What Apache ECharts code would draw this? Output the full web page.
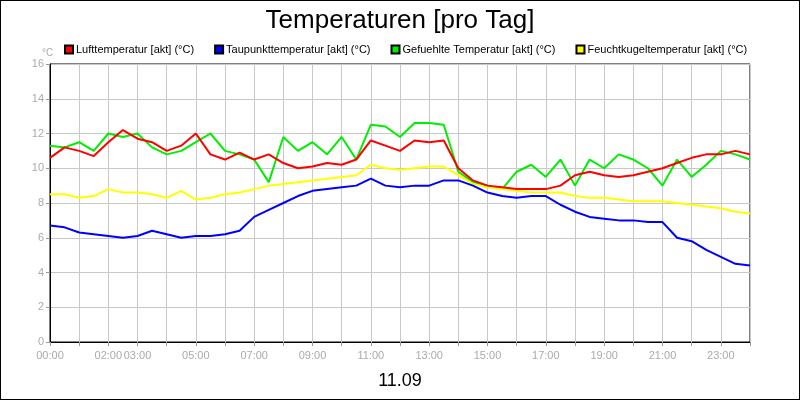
<!DOCTYPE html>
<html>
<head>
<meta charset="utf-8">
<script src="https://cdn.jsdelivr.net/npm/echarts@6/dist/echarts.min.js"></script>
<style>
html,body{margin:0;padding:0;background:#fff}
#chart{width:798px;height:398px;border:1px solid #000}
</style>
</head>
<body>
<div id="chart"></div>
<script>
// Stunden (halbstündlich)
var hours = [];
for (var i = 0; i <= 48; i++) hours.push(i / 2);
var shownLabels = [0, 2, 3, 5, 7, 9, 11, 13, 15, 17, 19, 21, 23];

var luft = [10.6,11.2,11.0,10.7,11.5,12.2,11.7,11.5,11.0,11.3,12.0,10.8,10.5,10.9,10.5,10.8,10.3,10.0,10.1,10.3,10.2,10.5,11.6,11.3,11.0,11.6,11.5,11.6,10.0,9.3,9.0,8.9,8.8,8.8,8.8,9.0,9.6,9.8,9.6,9.5,9.6,9.8,10.0,10.3,10.6,10.8,10.8,11.0,10.8];
var taupunkt = [6.7,6.6,6.3,6.2,6.1,6.0,6.1,6.4,6.2,6.0,6.1,6.1,6.2,6.4,7.2,7.6,8.0,8.4,8.7,8.8,8.9,9.0,9.4,9.0,8.9,9.0,9.0,9.3,9.3,9.0,8.6,8.4,8.3,8.4,8.4,7.9,7.5,7.2,7.1,7.0,7.0,6.9,6.9,6.0,5.8,5.3,4.9,4.5,4.4];
var gefuehlt = [11.3,11.2,11.5,11.0,12.0,11.8,12.0,11.2,10.8,11.0,11.5,12.0,11.0,10.8,10.5,9.2,11.8,11.0,11.5,10.8,11.8,10.5,12.5,12.4,11.8,12.6,12.6,12.5,9.8,9.2,9.0,8.8,9.8,10.2,9.5,10.5,9.0,10.5,10.0,10.8,10.5,10.0,9.0,10.5,9.5,10.2,11.0,10.8,10.5];
var feucht = [8.5,8.5,8.3,8.4,8.8,8.6,8.6,8.5,8.3,8.7,8.2,8.3,8.5,8.6,8.8,9.0,9.1,9.2,9.3,9.4,9.5,9.6,10.2,10.0,9.9,10.0,10.1,10.1,9.6,9.1,8.9,8.8,8.7,8.6,8.6,8.6,8.4,8.3,8.3,8.2,8.1,8.1,8.1,8.0,7.9,7.8,7.7,7.5,7.4];

var names = ['Lufttemperatur [akt] (°C)', 'Taupunkttemperatur [akt] (°C)', 'Gefuehlte Temperatur [akt] (°C)', 'Feuchtkugeltemperatur [akt] (°C)'];
var colors = ['#ff0000', '#0000ff', '#00ee00', '#ffff00'];
var values = [luft, taupunkt, gefuehlt, feucht];

function pairs(arr) {
	var out = [];
	for (var i = 0; i < arr.length; i++) out.push([hours[i], arr[i]]);
	return out;
}

var chart = echarts.init(document.getElementById('chart'));
var series = [];
for (var s = 0; s < names.length; s++) {
	series.push({
		name: names[s],
		type: 'line',
		data: pairs(values[s]),
		showSymbol: false,
		lineStyle: { color: colors[s], width: 2 },
		itemStyle: { color: colors[s], borderColor: '#000', borderWidth: 1 },
		z: s === 1 ? 5 : (s === 0 ? 4 : 3)
	});
}

var option = {
	animation: false,
	textStyle: { fontFamily: 'Liberation Sans, Arial' },
	title: [
		{ text: 'Temperaturen [pro Tag]', left: 'center', top: 2, textStyle: { fontSize: 26, fontWeight: 'normal', color: '#000' } },
		{ text: '11.09', left: 'center', top: 366, textStyle: { fontSize: 18, fontWeight: 'normal', color: '#000' } },
		{ text: '°C', left: 36, top: 42, textStyle: { fontSize: 10, fontWeight: 'normal', color: '#aaa' } }
	],
	legend: {
		top: 38, left: 58, itemWidth: 8, itemHeight: 8, itemGap: 20,
		icon: 'rect',
		textStyle: { fontSize: 11, color: '#000', padding: [0, 0, 0, -2] },
		data: names
	},
	grid: { left: 49, right: 49, top: 63, bottom: 57, show: true, borderColor: '#000', borderWidth: 1 },
	xAxis: {
		type: 'value', min: 0, max: 24, interval: 1,
		axisLine: { lineStyle: { color: '#000' } },
		axisTick: { show: true, length: 4, lineStyle: { color: '#999' } },
		splitLine: { show: true, lineStyle: { color: '#c8c8c8' } },
		axisLabel: {
			color: '#aaa', fontSize: 11, margin: 8,
			formatter: function (v) {
				if (shownLabels.indexOf(v) < 0) return '';
				return (v < 10 ? '0' : '') + v + ':00';
			}
		}
	},
	yAxis: {
		type: 'value', min: 0, max: 16, interval: 2,
		axisLine: { show: true, lineStyle: { color: '#000' } },
		axisTick: { show: true, length: 4, lineStyle: { color: '#999' } },
		splitLine: { show: true, lineStyle: { color: '#c8c8c8' } },
		axisLabel: { color: '#aaa', fontSize: 11, margin: 6 }
	},
	series: series
};
chart.setOption(option);
</script>
</body>
</html>
